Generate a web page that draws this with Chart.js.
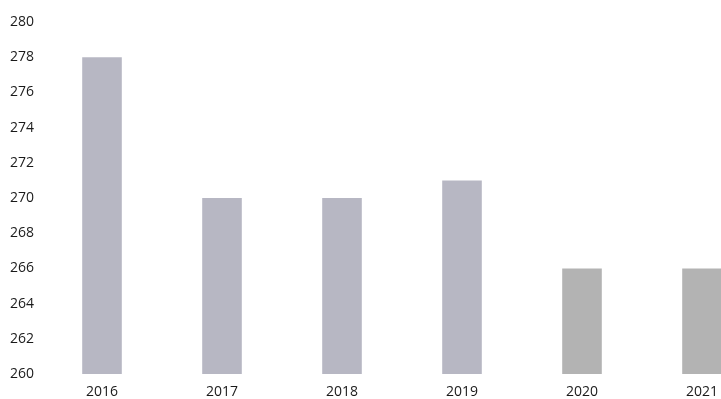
<!DOCTYPE html>
<html lang="en">
<head>
    <meta charset="UTF-8">
    <title>Bar chart 2016-2021</title>
    <script src="https://cdn.jsdelivr.net/npm/chart.js"></script>
    <style>
        html, body {
            margin: 0;
            padding: 0;
            overflow: hidden;
            background: #fff;
        }
        #chart_box {
            width: 772px;
            height: 399px;
        }
    </style>
</head>
<body>
    <div id="chart_box">
        <canvas id="chart"></canvas>
    </div>

    <script>
        // data
        const YEARS = ['2016', '2017', '2018', '2019', '2020', '2021']
        const VALUES = [278, 270, 270, 271, 266, 266]
        const BAR_COLORS = ['#b7b7c3', '#b7b7c3', '#b7b7c3', '#b7b7c3', '#b3b3b3', '#b3b3b3']
        const Y_MIN = 260
        const Y_MAX = 280
        const Y_STEP = 2

        const FONT = { family: '"Open Sans", "Liberation Sans", sans-serif', size: 14 }

        const ctx = document.getElementById('chart').getContext('2d')
        new Chart(ctx, {
            type: 'bar',
            data: {
                labels: YEARS,
                datasets: [{
                    data: VALUES,
                    backgroundColor: BAR_COLORS,
                    borderWidth: 0,
                    categoryPercentage: 1,
                    barPercentage: 0.33
                }]
            },
            options: {
                responsive: true,
                maintainAspectRatio: false,
                animation: false,
                layout: {
                    padding: { top: 22, right: 10, bottom: 0, left: 0 }
                },
                plugins: {
                    legend: { display: false },
                    tooltip: { enabled: false }
                },
                scales: {
                    x: {
                        grid: { display: false },
                        border: { display: false },
                        afterFit: (scale) => { scale.height = 25 },
                        ticks: {
                            color: '#1a1a1a',
                            font: FONT,
                            padding: 2
                        }
                    },
                    y: {
                        min: Y_MIN,
                        max: Y_MAX,
                        grid: { display: false },
                        border: { display: false },
                        afterFit: (scale) => { scale.width = 42 },
                        ticks: {
                            stepSize: Y_STEP,
                            color: '#1a1a1a',
                            font: FONT,
                            padding: 0
                        }
                    }
                }
            }
        })
    </script>
</body>
</html>
